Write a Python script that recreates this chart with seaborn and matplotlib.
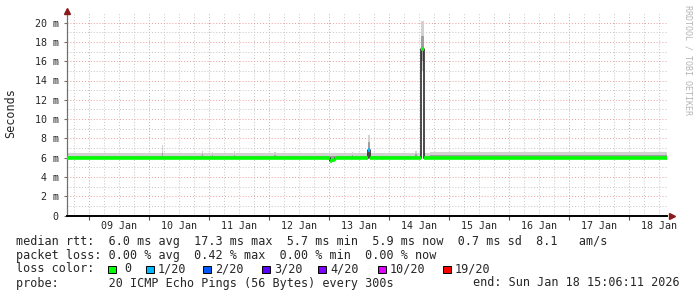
import numpy as np
import pandas as pd
import matplotlib
matplotlib.use("Agg")
import matplotlib.pyplot as plt
from matplotlib.patches import Rectangle
import seaborn as sns

# ---------------- data (hours since start, ms) ----------------
start = pd.Timestamp("2026-01-08 15:06:11")
end = pd.Timestamp("2026-01-18 15:06:11")

day_labels = ["09 Jan", "10 Jan", "11 Jan", "12 Jan", "13 Jan",
              "14 Jan", "15 Jan", "16 Jan", "17 Jan", "18 Jan"]
y_ticks = [0, 2, 4, 6, 8, 10, 12, 14, 16, 18, 20]
y_labels = ["0", "2 m", "4 m", "6 m", "8 m", "10 m", "12 m", "14 m", "16 m", "18 m", "20 m"]

# median rtt (step, post)
med_h = [0, 30, 60, 90, 105.2, 106.0, 107.2, 120.2, 121.2, 141.4, 142.6, 170, 200, 240]
med_ms = [5.97, 5.93, 5.97, 5.95, 5.65, 5.75, 5.97, 6.8, 5.97, 17.3, 5.97, 5.95, 5.97, 5.97]
med_loss = [0, 0, 0, 0, 0, 0, 0, 1, 0, 0, 0, 0, 0, 0]

# smoke (step, post)
smoke_h = [0, 37.8, 38.4, 53.8, 54.4, 57.8, 58.4, 66.6, 67.2, 82.8, 83.6,
           113.8, 114.4, 120.2, 121.2, 139.2, 139.8, 141.4, 142.6, 145.0, 240]
smoke_hi = [6.45, 7.3, 6.45, 6.7, 6.45, 6.55, 6.45, 6.65, 6.45, 6.55, 6.45,
            6.6, 6.45, 8.3, 6.45, 6.7, 6.45, 20.2, 6.45, 6.55, 6.55]
smoke_lo = [5.85, 5.85, 5.85, 5.85, 5.85, 5.85, 5.85, 5.85, 5.85, 5.85, 5.85,
            5.85, 5.85, 6.7, 5.85, 5.85, 5.85, 15.0, 5.85, 5.85, 5.85]
core_hi = [6.22, 6.5, 6.22, 6.35, 6.22, 6.28, 6.22, 6.3, 6.22, 6.28, 6.22,
           6.28, 6.22, 7.6, 6.22, 6.35, 6.22, 18.6, 6.22, 6.3, 6.3]
core_lo = [5.9, 5.9, 5.9, 5.9, 5.9, 5.9, 5.9, 5.9, 5.9, 5.9, 5.9,
           5.9, 5.9, 6.8, 5.9, 5.9, 5.9, 16.0, 5.9, 5.9, 5.9]

loss_names = ["0", "1/20", "2/20", "3/20", "4/20", "10/20", "19/20"]
loss_colors = ["#00ff00", "#00b8ff", "#0059ff", "#5e00ff", "#7e00ff", "#dd00ff", "#ff0000"]

stats_rtt = "median rtt:  6.0 ms avg  17.3 ms max  5.7 ms min  5.9 ms now  0.7 ms sd  8.1   am/s"
stats_loss = "packet loss: 0.00 % avg  0.42 % max  0.00 % min  0.00 % now"
probe_text = "probe:       20 ICMP Echo Pings (56 Bytes) every 300s"
end_text = "end: Sun Jan 18 15:06:11 2026"

# ---------------- figure ----------------
sns.set_theme(style="white")
plt.rcParams["font.family"] = ["DejaVu Sans Mono", "DejaVu Sans"]

W, H = 697, 297
fig = plt.figure(figsize=(W / 100, H / 100), dpi=100)
fig.patch.set_facecolor("white")
ax = fig.add_axes([67 / W, 1 - 215.5 / H, 600 / W, 202.5 / H])
ax.set_facecolor("white")

total_h = (end - start).total_seconds() / 3600.0
ax.set_xlim(0, total_h)
ax.set_ylim(0, 21.0)

# grid
first_mid = (pd.Timestamp("2026-01-09 00:00") - start).total_seconds() / 3600.0
mids = np.arange(first_mid, total_h, 24.0)
six = np.arange(first_mid - 18, total_h, 6.0)
six = six[six > 0]
minor_col = "#c4c4c4"
major_col = "#ec9c9c"
dot = (0, (1, 2))
for xv in six:
    if not np.any(np.isclose(mids, xv)):
        ax.axvline(xv, color=minor_col, lw=0.7, ls=dot, zorder=0)
for yv in np.arange(1, 21, 2):
    ax.axhline(yv, color=minor_col, lw=0.7, ls=dot, zorder=0)
for xv in mids:
    ax.axvline(xv, color=major_col, lw=0.7, ls=dot, zorder=0)
for yv in y_ticks[1:]:
    ax.axhline(yv, color=major_col, lw=0.7, ls=dot, zorder=0)

# smoke
ax.fill_between(smoke_h, smoke_lo, smoke_hi, step="post", color="#d2d2d2", lw=0, zorder=2)
ax.fill_between(smoke_h, core_lo, core_hi, step="post", color="#a0a0a0", lw=0, zorder=3)

# median: dark connectors + coloured steps
sns.lineplot(x=med_h, y=med_ms, drawstyle="steps-post", color="#1a1a1a", lw=1.1,
             ax=ax, zorder=4, estimator=None, sort=False)
for i in range(len(med_h) - 1):
    ax.hlines(med_ms[i], med_h[i], med_h[i + 1], color=loss_colors[med_loss[i]],
              lw=2.6, zorder=5, capstyle="butt")

# axes styling
for s in ["top", "right"]:
    ax.spines[s].set_visible(False)
ax.spines["left"].set_color("#707070")
ax.spines["left"].set_linewidth(0.9)
ax.spines["bottom"].set_color("black")
ax.spines["bottom"].set_linewidth(1.4)

ax.set_yticks(y_ticks)
ax.set_yticklabels(y_labels, fontsize=7.2, family="DejaVu Sans Mono")
ax.tick_params(axis="y", length=2, width=0.8, pad=4, color="#707070", left=True)

ax.set_xticks(mids)
ax.set_xticklabels([])
ax.tick_params(axis="x", which="major", length=3, width=0.8, color="#505050", bottom=True)
noon = mids + 12
ax.set_xticks(noon, minor=True)
ax.set_xticklabels(day_labels, minor=True, fontsize=7.2, family="DejaVu Sans Mono")
ax.tick_params(axis="x", which="minor", length=0, pad=4)

ax.set_ylabel("Seconds", fontsize=8.5, family="DejaVu Sans Mono", labelpad=0)
ax.yaxis.set_label_coords(-(67 - 17) / 600, (215.5 - 113) / 202.5)
ax.set_xlabel("")

# arrows
ax.plot([0], [21.25], marker="^", color="#8b1a1a", ms=4.5, clip_on=False, zorder=6)
ax.plot([total_h + 2.0], [0], marker=">", color="#8b1a1a", ms=4.5, clip_on=False, zorder=6)

# watermark
fig.text(688 / W, 1 - 5 / H, "RRDTOOL / TOBI OETIKER", rotation=270, va="top", ha="center",
         fontsize=6, color="#b4b4b4", family="DejaVu Sans Mono")

# legend text
fs = 8.5
fig.text(16 / W, 1 - 241 / H, stats_rtt, va="center", ha="left", fontsize=fs, family="DejaVu Sans Mono")
fig.text(16 / W, 1 - 255 / H, stats_loss, va="center", ha="left", fontsize=fs, family="DejaVu Sans Mono")
fig.text(16 / W, 1 - 269 / H, "loss color:", va="center", ha="left", fontsize=fs, family="DejaVu Sans Mono")
sq_x = [108, 146, 203, 262, 318, 378, 443]
for xs, name, col in zip(sq_x, loss_names, loss_colors):
    fig.add_artist(Rectangle((xs / W, 1 - 273 / H), 7.5 / W, 7.5 / H, transform=fig.transFigure,
                             facecolor=col, edgecolor="black", lw=0.7))
    tx = xs + (16 if name == "0" else 12)
    fig.text(tx / W, 1 - 269 / H, name, va="center", ha="left", fontsize=fs, family="DejaVu Sans Mono")
fig.text(16 / W, 1 - 283 / H, probe_text, va="center", ha="left", fontsize=fs, family="DejaVu Sans Mono")
fig.text(680 / W, 1 - 283 / H, end_text, va="center", ha="right", fontsize=fs, family="DejaVu Sans Mono")

fig.savefig("out.png", dpi=100, facecolor="white")
